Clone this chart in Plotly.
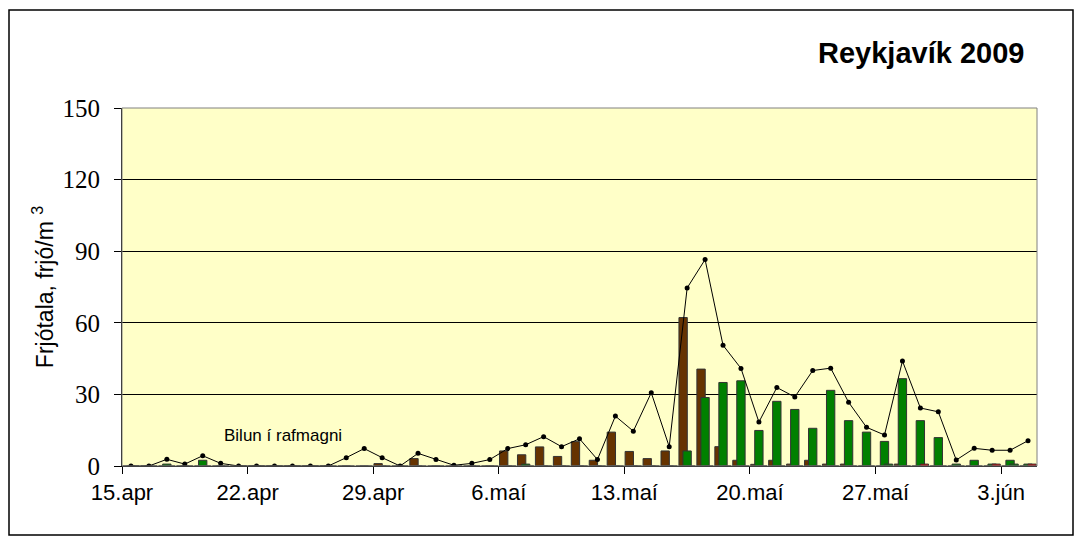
import pandas as pd
import plotly.graph_objects as go

# ---- data -------------------------------------------------------------
start_date = "2009-04-15"
n_days = 51  # 15.apr ... 4.jún
days = pd.date_range(start_date, periods=n_days, freq="D")

total = [0, 0, 2.8, 0.8, 4.3, 1.1, 0, 0, 0, 0,
         0, 0, 3.5, 7.3, 3.5, 0, 5.3, 2.7, 0.3, 1.1,
         2.7, 7.3, 8.9, 12.3, 8.1, 11.4, 2.7, 20.9, 14.6, 30.7,
         8.1, 74.6, 86.5, 50.6, 40.9, 18.4, 32.9, 28.9, 40.0, 41.0,
         26.7, 16.2, 13.0, 44.0, 24.3, 22.7, 2.5, 7.4, 6.6, 6.6,
         10.6]

brown = [0, 0, 0, 0, 0, 0, 0, 0, 0, 0,
         0, 0, 0, 0, 1.0, 0, 3.1, 0, 0, 0,
         0, 6.3, 4.7, 8.0, 4.0, 10.2, 2.4, 14.2, 6.1, 3.1,
         6.3, 62.2, 40.6, 8.1, 2.4, 0.7, 2.4, 0.8, 2.4, 0.8,
         0.8, 0, 0, 0.8, 0, 0, 0, 0, 0, 0,
         0]

green = [0, 0, 0.8, 0, 2.4, 0, 0, 0, 0, 0,
         0, 0, 0, 0, 0, 0, 0, 0, 0, 0,
         0, 0, 0.8, 0, 0, 0, 0, 0, 0, 0,
         0, 6.3, 28.7, 35.0, 35.7, 14.9, 27.1, 23.7, 15.8, 31.7,
         19.0, 14.2, 10.3, 36.6, 19.0, 11.9, 0.8, 2.4, 0.8, 2.4,
         0.8]

other = [0] * 42 + [0.8, 0, 0.8, 0, 0, 0, 0.8, 0.8, 0.8]
other_colors = ["#FF0000"] * 42 + ["#008000", "#FF0000", "#FF0000", "#FF0000",
                                   "#FF0000", "#FF0000", "#FF0000", "#008000", "#FF0000"]

tick_dates = ["2009-04-15", "2009-04-22", "2009-04-29", "2009-05-06",
              "2009-05-13", "2009-05-20", "2009-05-27", "2009-06-03"]
tick_labels = ["15.apr", "22.apr", "29.apr", "6.maí", "13.maí", "20.maí", "27.maí", "3.jún"]

# ---- figure -------------------------------------------------------------
DAY = 86400000.0
x_mid = days + pd.Timedelta(hours=12)
bar_w = 0.465 * DAY
step = 0.223 * DAY
off0 = -0.457 * DAY

fig = go.Figure()
fig.add_trace(go.Bar(x=x_mid, y=brown, width=bar_w, offset=off0,
                     marker=dict(color="#663300", line=dict(color="#333333", width=1)),
                     showlegend=False))
fig.add_trace(go.Bar(x=x_mid, y=green, width=bar_w, offset=off0 + step,
                     marker=dict(color="#008000", line=dict(color="#333333", width=1)),
                     showlegend=False))
fig.add_trace(go.Bar(x=x_mid, y=other, width=bar_w, offset=off0 + 2 * step,
                     marker=dict(color=other_colors, line=dict(color="#333333", width=1)),
                     showlegend=False))
fig.add_trace(go.Scatter(x=x_mid, y=total, mode="lines+markers",
                         line=dict(color="black", width=1),
                         marker=dict(color="black", size=5),
                         showlegend=False))

# page has an 8px body margin; figure coordinates = screen - 8
OFF = 8
W, H = 1082 - OFF, 544 - OFF
L, T = 122 - OFF, 108 - OFF
R = W - (1037 - OFF)
B = H - (466 - OFF)
pw = W - L - R
ph = H - T - B


def px_x(px):
    return (px - OFF - L) / pw


def px_y(py):
    return (H - B - (py - OFF)) / ph


fig.update_layout(
    width=W, height=H,
    margin=dict(l=L, r=R, t=T, b=B),
    barmode="overlay",
    paper_bgcolor="white",
    plot_bgcolor="#FFFFC8",
    xaxis=dict(
        type="date",
        range=[days[0], days[-1] + pd.Timedelta(days=1)],
        tickvals=pd.to_datetime(tick_dates),
        ticktext=tick_labels,
        ticks="outside", ticklen=7, tickcolor="black",
        showgrid=False, showline=True, linecolor="black", linewidth=1,
        tickfont=dict(family="Arial, Liberation Sans", size=22, color="black"),
        ticklabelstandoff=0,
        zeroline=False,
    ),
    yaxis=dict(
        range=[0, 150],
        tickvals=[0, 30, 60, 90, 120, 150],
        ticks="outside", ticklen=7, tickcolor="black",
        showgrid=True, gridcolor="black", gridwidth=1,
        showline=True, linecolor="black", linewidth=1,
        zeroline=False,
        tickfont=dict(family="Times New Roman, Liberation Serif", size=25, color="black"),
        ticklabelstandoff=9,
        title=dict(text="Frjótala, frjó/m <sup>3</sup>",
                   font=dict(family="Arial, Liberation Sans", size=23, color="black"),
                   standoff=2),
    ),
    shapes=[
        dict(type="rect", xref="paper", yref="paper", x0=0, x1=1, y0=0, y1=1,
             line=dict(color="#808080", width=1), fillcolor="rgba(0,0,0,0)", layer="above"),
        dict(type="rect", xref="paper", yref="paper",
             x0=px_x(9), x1=px_x(1073), y0=px_y(535), y1=px_y(10),
             line=dict(color="black", width=1.5), fillcolor="rgba(0,0,0,0)"),
    ],
    annotations=[
        dict(text="<b>Reykjavík 2009</b>", xref="paper", yref="paper",
             x=px_x(921), y=px_y(53), showarrow=False, xanchor="center", yanchor="middle",
             font=dict(family="Arial, Liberation Sans", size=29, color="black")),
        dict(text="Bilun í rafmagni", xref="x", yref="y",
             x=days[8] + pd.Timedelta(hours=23), y=12.6, showarrow=False,
             xanchor="center", yanchor="middle",
             font=dict(family="Arial, Liberation Sans", size=17, color="black")),
    ],
)

fig.update_xaxes(layer="above traces")
fig.update_yaxes(layer="above traces")

fig.write_html("out.html")
